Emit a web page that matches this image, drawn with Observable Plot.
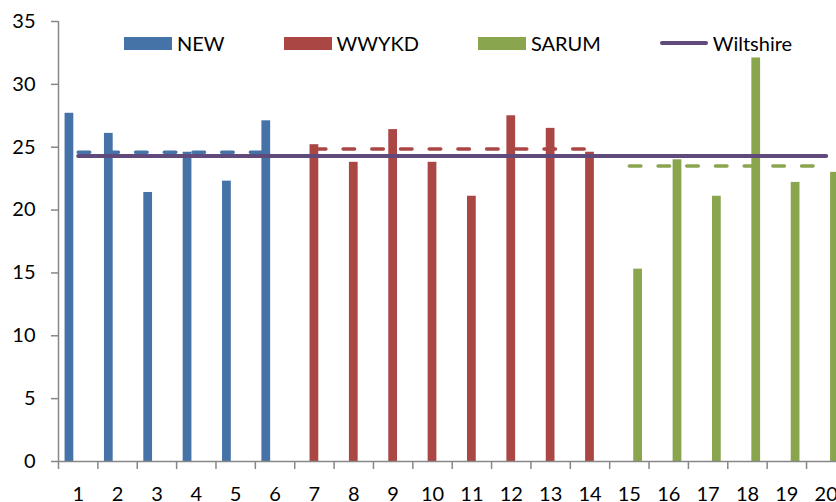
<!DOCTYPE html>
<html><head><meta charset="utf-8">
<script src="https://cdn.jsdelivr.net/npm/d3@7"></script>
<script src="https://cdn.jsdelivr.net/npm/@observablehq/plot@0.6"></script>
<style>
html,body{margin:0;padding:0;background:#fff;overflow:hidden;}
#wrap{position:relative;width:836px;height:502px;overflow:hidden;font-family:Lato,sans-serif;}
#legend{position:absolute;left:124px;top:31px;display:flex;gap:59px;align-items:center;font-size:20px;color:#000;line-height:24px;}
.item{display:flex;align-items:center;gap:5px;}
.sw{width:48px;height:13px;}
.ln{width:48px;height:4px;border-radius:2px;}
</style></head><body><div id="wrap"><div id="legend"></div></div>
<script>
// ---- data ----
const categories = [1,2,3,4,5,6,7,8,9,10,11,12,13,14,15,16,17,18,19,20];
const seriesNames = ["NEW", "WWYKD", "SARUM"];
const newCats = [1,2,3,4,5,6];
const newValues = [27.7, 26.1, 21.4, 24.6, 22.3, 27.1];
const wwykdCats = [7,8,9,10,11,12,13,14];
const wwykdValues = [25.2, 23.8, 26.4, 23.8, 21.1, 27.5, 26.5, 24.6];
const sarumCats = [15,16,17,18,19,20];
const sarumValues = [15.3, 24.0, 21.1, 32.1, 22.2, 23.0];
const seriesAverages = [24.6, 24.85, 23.5];
const wiltshireName = "Wiltshire";
const wiltshireValue = 24.3;
const yTicks = [0,5,10,15,20,25,30,35];

// ---- styling ----
const colors = ["#4572A7", "#AA4643", "#89A54E"];
const wiltColor = "#604A7B";
const axisGray = "#878787";
const gapWidth = 1.5; // Excel gap width 150%

// ---- derived table ----
const catsBySeries = [newCats, wwykdCats, sarumCats];
const valsBySeries = [newValues, wwykdValues, sarumValues];
const barW = 1 / (seriesNames.length + gapWidth);
const rows = [];
seriesNames.forEach((s, k) => {
  catsBySeries[k].forEach((c, i) => {
    const left = c - 0.5 + (gapWidth / 2 + k) * barW;
    rows.push({cat: c, series: s, value: valsBySeries[k][i], x1: left, x2: left + barW});
  });
});
const avgRows = [];
seriesNames.forEach((s, k) => {
  const cs = catsBySeries[k];
  avgRows.push({series: s, cat: cs[0], value: seriesAverages[k]});
  avgRows.push({series: s, cat: cs[cs.length - 1], value: seriesAverages[k]});
});
const wiltRows = [
  {cat: categories[0], value: wiltshireValue},
  {cat: categories[categories.length - 1], value: wiltshireValue}
];
const xDomain = [categories[0] - 0.5, categories[categories.length - 1] + 0.5];
const boundaries = categories.map(c => c - 0.5);

const chart = Plot.plot({
  width: 836,
  height: 502,
  marginLeft: 58,
  marginRight: -9.4,
  marginTop: 21,
  marginBottom: 41,
  style: {fontFamily: "Lato, sans-serif", fontSize: "20px", background: "white", color: "#000", overflow: "visible"},
  x: {type: "linear", domain: xDomain, axis: null, label: null},
  y: {domain: [0, 35], axis: null, label: null},
  color: {domain: seriesNames, range: colors},
  marks: [
    Plot.rect(rows, {x1: "x1", x2: "x2", y1: 0, y2: "value", fill: "series"}),
    Plot.line(avgRows, {x: "cat", y: "value", z: "series", stroke: "series", strokeWidth: 3.5, strokeDasharray: "11.5,17.2", strokeLinecap: "round"}),
    Plot.line(wiltRows, {x: "cat", y: "value", stroke: wiltColor, strokeWidth: 4, strokeLinecap: "round"}),
    Plot.ruleY([0], {stroke: axisGray, strokeWidth: 1.5}),
    Plot.ruleX([xDomain[0]], {y1: 0, y2: 35, stroke: axisGray, strokeWidth: 1.5}),
    Plot.axisY({ticks: yTicks, label: null, tickSize: 7, tickPadding: 16, stroke: axisGray, fill: "#000", fontSize: 20, strokeWidth: 1.5}),
    Plot.axisX(boundaries, {label: null, tickSize: 8, tickFormat: () => "", stroke: axisGray, strokeWidth: 1.5}),
    Plot.axisX(categories, {label: null, tickSize: 0, tickPadding: 25, fill: "#000", fontSize: 20})
  ]
});
document.getElementById("wrap").prepend(chart);

// ---- legend ----
const legend = document.getElementById("legend");
seriesNames.forEach((s, k) => {
  const it = document.createElement("div"); it.className = "item";
  const sw = document.createElement("div"); sw.className = "sw"; sw.style.background = colors[k];
  const t = document.createElement("span"); t.textContent = s;
  it.append(sw, t); legend.append(it);
});
{
  const it = document.createElement("div"); it.className = "item";
  const ln = document.createElement("div"); ln.className = "ln"; ln.style.background = wiltColor;
  const t = document.createElement("span"); t.textContent = wiltshireName;
  it.append(ln, t); legend.append(it);
}
</script>
</body></html>
